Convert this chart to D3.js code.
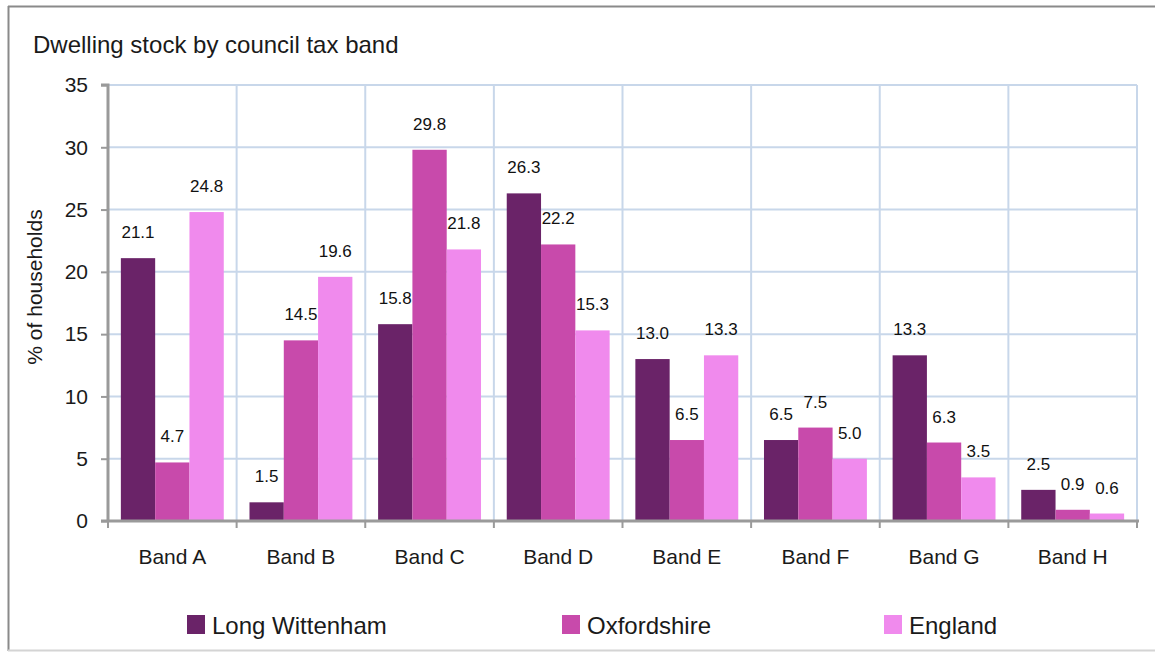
<!DOCTYPE html>
<html>
<head>
<meta charset="utf-8">
<script src="https://cdn.jsdelivr.net/npm/d3@7"></script>
<style>
  html, body { margin: 0; padding: 0; background: #ffffff; }
  svg { display: block; font-family: "Liberation Sans", Arial, sans-serif; }
</style>
</head>
<body>
<svg id="chart" width="1155" height="653"></svg>
<script>
const categories = ["Band A", "Band B", "Band C", "Band D", "Band E", "Band F", "Band G", "Band H"];
const seriesNames = ["Long Wittenham", "Oxfordshire", "England"];
const longWittenham = [21.1, 1.5, 15.8, 26.3, 13.0, 6.5, 13.3, 2.5];
const oxfordshire = [4.7, 14.5, 29.8, 22.2, 6.5, 7.5, 6.3, 0.9];
const england = [24.8, 19.6, 21.8, 15.3, 13.3, 5.0, 3.5, 0.6];
const yTicks = [0, 5, 10, 15, 20, 25, 30, 35];
const colors = ["#6a2368", "#c84aab", "#f08aed"];

const seriesValues = [longWittenham, oxfordshire, england];

const svg = d3.select("#chart");
const W = 1155, H = 653;
const plot = { left: 108, right: 1137, top: 85, bottom: 521 };

// frame
svg.append("line").attr("x1", 8).attr("x2", W).attr("y1", 6.5).attr("y2", 6.5)
  .attr("stroke", "#8a8a8a").attr("stroke-width", 2);
svg.append("line").attr("x1", 8.5).attr("x2", 8.5).attr("y1", 6).attr("y2", 651)
  .attr("stroke", "#8a8a8a").attr("stroke-width", 2);
svg.append("line").attr("x1", 8).attr("x2", W).attr("y1", 650.5).attr("y2", 650.5)
  .attr("stroke", "#d4d4d4").attr("stroke-width", 2);

// title
svg.append("text").attr("x", 33).attr("y", 53)
  .attr("font-size", 24).attr("fill", "#1a1a1a")
  .text("Dwelling stock by council tax band");

const x0 = d3.scaleBand().domain(categories).range([plot.left, plot.right]).paddingInner(0).paddingOuter(0);
const bw = x0.bandwidth();
const x1 = d3.scaleBand().domain(seriesNames).range([bw * 0.1, bw * 0.9]).padding(0);
const y = d3.scaleLinear().domain([0, 35]).range([plot.bottom, plot.top]);

const grid = svg.append("g");
// horizontal gridlines
grid.selectAll("line.h").data(yTicks.filter(t => t > 0)).enter().append("line")
  .attr("x1", plot.left).attr("x2", plot.right)
  .attr("y1", d => y(d)).attr("y2", d => y(d))
  .attr("stroke", "#c8d7ea").attr("stroke-width", 2);
// vertical gridlines at category boundaries
grid.selectAll("line.v").data(categories).enter().append("line")
  .attr("x1", d => x0(d) + bw).attr("x2", d => x0(d) + bw)
  .attr("y1", plot.top).attr("y2", plot.bottom)
  .attr("stroke", "#c8d7ea").attr("stroke-width", 2);

// bars
const groups = svg.append("g").selectAll("g").data(categories).enter().append("g")
  .attr("transform", d => `translate(${x0(d)},0)`);

groups.each(function(cat, ci) {
  const g = d3.select(this);
  const rows = seriesNames.map((s, si) => ({ s, si, v: seriesValues[si][ci] }));
  g.selectAll("rect").data(rows).enter().append("rect")
    .attr("x", d => x1(d.s))
    .attr("width", x1.bandwidth())
    .attr("y", d => y(d.v))
    .attr("height", d => y(0) - y(d.v))
    .attr("fill", d => colors[d.si]);
  g.selectAll("text").data(rows).enter().append("text")
    .attr("x", d => x1(d.s) + x1.bandwidth() / 2)
    .attr("y", d => y(d.v) - 20)
    .attr("text-anchor", "middle")
    .attr("font-size", 17).attr("fill", "#111")
    .text(d => d3.format(".1f")(d.v));
});

// y axis
const yAxis = d3.axisLeft(y).tickValues(yTicks).tickSize(7).tickPadding(13).tickFormat(d3.format("d"));
const ya = svg.append("g").attr("transform", `translate(${plot.left},0)`).call(yAxis);
ya.select(".domain").attr("stroke", "#9a9a9a").attr("stroke-width", 3).attr("d", `M-7,${plot.top}H0V${plot.bottom}`);
ya.selectAll(".tick line").attr("stroke", "#9a9a9a").attr("stroke-width", 2);
ya.selectAll(".tick text").attr("font-size", 21).attr("fill", "#1a1a1a").attr("font-family", "Liberation Sans, Arial, sans-serif");

// x axis
const xa = svg.append("g").attr("transform", `translate(0,${plot.bottom})`);
xa.append("line").attr("x1", plot.left - 7).attr("x2", plot.right + 2)
  .attr("y1", 0).attr("y2", 0).attr("stroke", "#9a9a9a").attr("stroke-width", 3);
const bounds = [plot.left].concat(categories.map(c => x0(c) + bw));
xa.selectAll("line.t").data(bounds).enter().append("line")
  .attr("x1", d => d).attr("x2", d => d).attr("y1", 0).attr("y2", 7)
  .attr("stroke", "#9a9a9a").attr("stroke-width", 2);
xa.selectAll("text").data(categories).enter().append("text")
  .attr("x", d => x0(d) + bw / 2).attr("y", 43)
  .attr("text-anchor", "middle").attr("font-size", 21).attr("fill", "#1a1a1a")
  .text(d => d);

// y axis title
svg.append("text")
  .attr("transform", `translate(42,287) rotate(-90)`)
  .attr("text-anchor", "middle").attr("font-size", 21).attr("fill", "#1a1a1a")
  .text("% of households");

// legend
const legendX = [187, 562, 884];
const lg = svg.append("g").selectAll("g").data(seriesNames).enter().append("g")
  .attr("transform", (d, i) => `translate(${legendX[i]},615)`);
lg.append("rect").attr("x", 0).attr("y", 0).attr("width", 18).attr("height", 19)
  .attr("fill", (d, i) => colors[i]);
lg.append("text").attr("x", 25).attr("y", 19).attr("font-size", 24).attr("fill", "#1a1a1a")
  .text(d => d);
</script>
</body>
</html>
